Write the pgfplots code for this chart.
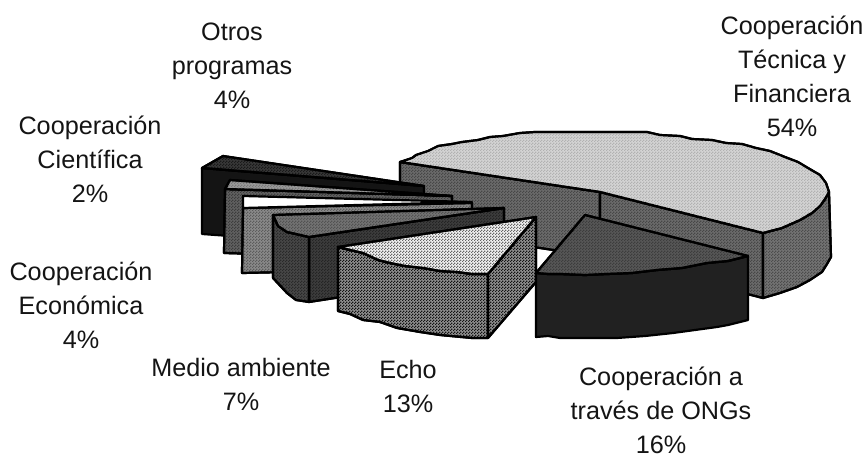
\documentclass[border=0pt]{standalone}
\usepackage{fontspec}
\setmainfont{Liberation Sans}
\usepackage{pgfplots}
\usetikzlibrary{patterns}
\pgfplotsset{compat=1.18}
\pgfdeclarepatternformonly{ht}{\pgfqpoint{0pt}{0pt}}{\pgfqpoint{3pt}{3pt}}{\pgfqpoint{3pt}{3pt}}{%
  \pgfpathrectangle{\pgfqpoint{0pt}{0pt}}{\pgfqpoint{1.5pt}{1.5pt}}%
  \pgfpathrectangle{\pgfqpoint{1.5pt}{1.5pt}}{\pgfqpoint{1.5pt}{1.5pt}}%
  \pgfusepath{fill}}
\pgfplotsset{
  slice/.style={draw=black,line width=2.2pt,line join=round,mark=none},
  tex/.style={postaction={pattern=ht,pattern color=#1}}}
\begin{document}
\begin{tikzpicture}
\begin{axis}[scale only axis,width=868pt,height=457pt,xmin=0,xmax=868,ymin=0,ymax=457,y dir=reverse,hide axis,clip=false]
\path (axis cs:0,0) rectangle (axis cs:868,457);
% Cooperacion Tecnica y Financiera 54%
\addplot[slice,fill=black!58,tex=black!72] coordinates {(400,162)(600,192)(600,257)(400,227)} -- cycle;
\addplot[slice,fill=black!58,tex=black!72] coordinates {(600,192)(763,233)(763,298)(600,257)} -- cycle;
\addplot[slice,fill=black!55,tex=black!70] coordinates {(763,233)(782,228)(800,220)(812,213)(820,206)(825,199)(829,192)(831,257)(827,264)(822,272)(810,280)(797,287)(780,293)(763,298)} -- cycle;
\addplot[slice,fill=black!17,tex=black!30] coordinates {(400,162)(412,158)(416,155)(428,151)(438,146)(452,144)(462,142)(478,140)(490,137)(503,136)(520,133)(535,132)(557,132)(647,132)(660,135)(680,136)(692,139)(712,140)(726,143)(742,144)(756,148)(770,151)(785,157)(798,162)(808,168)(820,175)(826,183)(829,192)(825,199)(820,206)(812,213)(800,220)(782,228)(763,233)(600,192)} -- cycle;
% Otros programas 4%
\addplot[slice,fill=black!92] coordinates {(202,168)(424,186)(424,193)(424,250)(202,234)} -- cycle;
\addplot[slice,fill=black!78,tex=black!90] coordinates {(202,168)(223,156)(424,186)} -- cycle;
% Cooperacion Cientifica 2%
\addplot[slice,fill=black!62,tex=black!76] coordinates {(225,189)(452,196)(452,260)(224,253)} -- cycle;
\addplot[slice,fill=black!40,tex=black!52] coordinates {(225,189)(230,180)(452,196)} -- cycle;
% Cooperacion Economica 4%
\addplot[slice,fill=black!46,tex=black!64] coordinates {(243,208)(472,203)(472,268)(242,273)} -- cycle;
\addplot[slice,fill=white] coordinates {(243,196)(472,202)(243,208)} -- cycle;
% Medio ambiente 7%
\addplot[slice,fill=black!76,tex=black!86] coordinates {(309,237)(504,208)(504,272)(309,302)} -- cycle;
\addplot[slice,fill=black!72,tex=black!84] coordinates {(273,215)(278,226)(287,232)(296,234)(309,237)(309,302)(296,300)(287,293)(273,278)} -- cycle;
\addplot[slice,fill=black!55,tex=black!68] coordinates {(273,215)(504,208)(309,237)(296,234)(287,232)(278,226)} -- cycle;
% Echo 13%
\addplot[slice,fill=black!44,tex=black!92] coordinates {(338,247)(350,250)(363,253)(378,260)(390,263)(405,266)(423,268)(440,271)(457,272)(472,274)(488,274)(488,338)(472,338)(440,335)(420,332)(397,328)(380,322)(363,320)(350,314)(338,311)} -- cycle;
\addplot[slice,fill=black!44,tex=black!92] coordinates {(488,274)(536,217)(536,282)(488,338)} -- cycle;
\addplot[slice,fill=black!5,tex=black!60] coordinates {(338,247)(350,250)(363,253)(378,260)(390,263)(405,266)(423,268)(440,271)(457,272)(472,274)(488,274)(536,217)} -- cycle;
% Cooperacion a traves de ONGs 16%
\addplot[slice,fill=black!87] coordinates {(536,273)(548,274)(560,274)(585,275)(607,274)(632,273)(657,270)(682,268)(707,263)(728,261)(748,256)(748,320)(728,325)(717,327)(695,330)(673,333)(645,336)(617,338)(560,338)(548,336)(536,337)} -- cycle;
\addplot[slice,fill=black!66,tex=black!76] coordinates {(585,215)(748,256)(728,261)(707,263)(682,268)(657,270)(632,273)(607,274)(585,275)(560,274)(548,274)(536,273)} -- cycle;
% Labels
\tikzset{lab/.style={inner sep=0pt,align=center,font=\fontsize{25.2}{34}\selectfont,text=black!92}}
\node[lab] at (axis cs:232,66) {Otros\\programas\\4\%};
\node[lab] at (axis cs:792,76) {Cooperación\\Técnica y\\Financiera\\54\%};
\node[lab] at (axis cs:90,159) {Cooperación\\Científica\\2\%};
\node[lab] at (axis cs:81,305) {Cooperación\\Económica\\4\%};
\node[lab] at (axis cs:241,384) {Medio ambiente\\7\%};
\node[lab] at (axis cs:408,386) {Echo\\13\%};
\node[lab] at (axis cs:661,410) {Cooperación a\\través de ONGs\\16\%};
\end{axis}
\end{tikzpicture}
\end{document}
